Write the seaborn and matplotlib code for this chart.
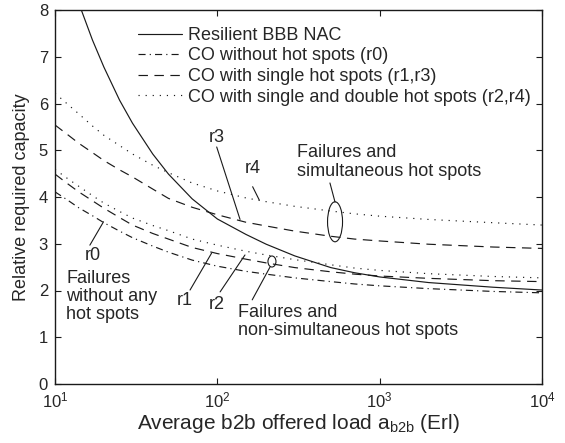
import numpy as np
import pandas as pd
import matplotlib
matplotlib.use("Agg")
import matplotlib.pyplot as plt
from matplotlib.patches import Ellipse
import seaborn as sns

# ---- data ----
load = [10, 12, 14, 17, 20, 25, 30, 40, 50, 70, 100, 150, 200, 300, 500, 700,
        1000, 2000, 5000, 10000]
nac = [9.81, 8.86, 8.15, 7.36, 6.78, 6.07, 5.58, 4.92, 4.49, 3.96, 3.53, 3.20,
       2.99, 2.74, 2.49, 2.38, 2.29, 2.17, 2.07, 2.01]
r0 = [4.11, 3.93, 3.77, 3.60, 3.45, 3.27, 3.13, 2.95, 2.82, 2.65, 2.52, 2.41,
      2.35, 2.27, 2.19, 2.14, 2.10, 2.04, 1.98, 1.95]
r1 = [4.49, 4.28, 4.11, 3.92, 3.76, 3.56, 3.40, 3.22, 3.10, 2.92, 2.79, 2.67,
      2.59, 2.49, 2.40, 2.35, 2.31, 2.26, 2.21, 2.19]
r2 = [4.59, 4.39, 4.23, 4.03, 3.87, 3.69, 3.55, 3.39, 3.28, 3.10, 2.97, 2.84,
      2.76, 2.66, 2.55, 2.48, 2.43, 2.36, 2.30, 2.27]
r3 = [5.54, 5.33, 5.15, 4.95, 4.78, 4.58, 4.43, 4.17, 3.97, 3.78, 3.62, 3.46,
      3.38, 3.27, 3.16, 3.10, 3.06, 2.99, 2.93, 2.90]
r4 = [6.22, 5.98, 5.78, 5.52, 5.32, 5.10, 4.92, 4.68, 4.52, 4.30, 4.13, 3.98,
      3.90, 3.80, 3.70, 3.64, 3.59, 3.52, 3.45, 3.40]

legend_labels = ["Resilient BBB NAC",
                 "CO without hot spots (r0)",
                 "CO with single hot spots (r1,r3)",
                 "CO with single and double hot spots (r2,r4)"]
y_ticks = [0, 1, 2, 3, 4, 5, 6, 7, 8]
x_ticks = [10, 100, 1000, 10000]

sns.set_theme(style="ticks")
plt.rcParams['font.family'] = ['Liberation Sans', 'DejaVu Sans']
plt.rcParams['mathtext.fontset'] = 'custom'
plt.rcParams['mathtext.rm'] = 'Liberation Sans'
plt.rcParams['mathtext.it'] = 'Liberation Sans:italic'

fig = plt.figure(figsize=(5.65, 4.43), dpi=100)
ax = fig.add_axes([55 / 565, (443 - 384) / 443, (542 - 55) / 565, (384 - 10) / 443])

lw = 0.85
dashdot = (0, (6, 3.5, 1, 3.5))
dashed = (0, (8, 5.5))
dotted = (0, (1, 5))

df = pd.DataFrame({"load": load, "nac": nac, "r0": r0, "r1": r1,
                   "r2": r2, "r3": r3, "r4": r4})

sns.lineplot(data=df, x="load", y="nac", ax=ax, color="k", lw=lw,
             linestyle="-", label=legend_labels[0])
sns.lineplot(data=df, x="load", y="r0", ax=ax, color="k", lw=lw,
             linestyle=dashdot, label=legend_labels[1])
sns.lineplot(data=df, x="load", y="r1", ax=ax, color="k", lw=lw,
             linestyle=dashed, label=legend_labels[2])
sns.lineplot(data=df, x="load", y="r3", ax=ax, color="k", lw=lw,
             linestyle=dashed)
sns.lineplot(data=df, x="load", y="r2", ax=ax, color="k", lw=lw,
             linestyle=dotted, label=legend_labels[3])
sns.lineplot(data=df, x="load", y="r4", ax=ax, color="k", lw=lw,
             linestyle=dotted)

ax.set_xscale("log")
ax.set_xlim(10, 10000)
ax.set_ylim(0, 8)
ax.set_xticks(x_ticks)
ax.set_yticks(y_ticks)
ax.minorticks_off()
ax.tick_params(axis="both", which="both", direction="in", top=True, right=True,
               length=4, width=0.8, labelsize=12, color="k", pad=5)
for s in ax.spines.values():
    s.set_color("k")
    s.set_linewidth(1.0)
    s.set_visible(True)

ax.set_xlabel(r"Average b2b offered load a$_{\mathrm{b2b}}$ (Erl)", fontsize=15, labelpad=1)
ax.set_ylabel("Relative required capacity", fontsize=13, labelpad=6)

leg = ax.legend(loc="upper left", bbox_to_anchor=(0.17, 0.955), frameon=False,
                fontsize=13, handlelength=2.45, handletextpad=0.33,
                labelspacing=0.2, borderaxespad=0, borderpad=0)

fs = 13
ls = 1.1
line_kw = dict(arrowstyle="-", color="k", lw=0.8, shrinkA=0, shrinkB=0)

def leader(p0, p1):
    ax.annotate("", xy=p1, xytext=p0, arrowprops=line_kw)

ax.text(99.5, 5.28, "r3", fontsize=fs, ha="center", va="center")
leader((99.1, 5.07), (138, 3.52))
ax.text(166, 4.60, "r4", fontsize=fs, ha="center", va="center")
leader((165, 4.22), (181, 3.94))
ax.text(310, 4.75, "Failures and\nsimultaneous hot spots", fontsize=fs,
        ha="left", va="center", linespacing=ls)
leader((494, 4.30), (531, 3.89))
ax.text(134, 1.33, "Failures and\nnon-simultaneous hot spots", fontsize=fs,
        ha="left", va="center", linespacing=ls)
leader((211, 2.50), (164, 1.80))
ax.text(63.2, 1.78, "r1", fontsize=fs, ha="center", va="center")
leader((92.2, 2.80), (67.9, 2.01))
ax.text(99, 1.69, "r2", fontsize=fs, ha="center", va="center")
leader((148, 2.76), (104, 1.97))
ax.text(17.2, 2.74, "r0", fontsize=fs, ha="center", va="center")
leader((19.9, 3.47), (16.4, 2.97))
ax.text(11.7, 1.87, "Failures\nwithout any\nhot spots", fontsize=fs,
        ha="left", va="center", linespacing=ls)

# ellipses (drawn in axes-fraction space so they stay elliptic on the log axis)
def ellipse(xc, yc, w_px, h_px):
    c = ax.transAxes.inverted().transform(ax.transData.transform((xc, yc)))
    e = Ellipse(c, w_px / 487, h_px / 374, transform=ax.transAxes,
                fill=False, ec="k", lw=0.8)
    ax.add_patch(e)

ellipse(531, 3.47, 15, 40)
ellipse(217, 2.62, 8, 11)

fig.savefig("out.png", dpi=100)
